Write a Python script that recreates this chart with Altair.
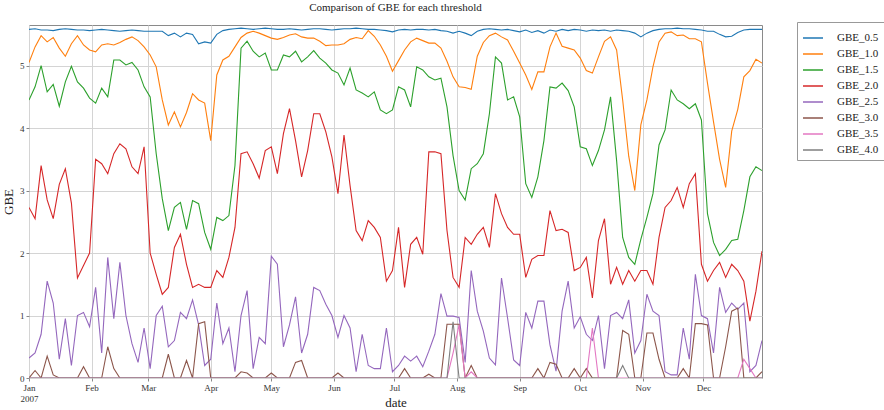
import altair as alt
import pandas as pd

# Series names and matplotlib "tab10" colours
SERIES = ["GBE_0.5", "GBE_1.0", "GBE_1.5", "GBE_2.0", "GBE_2.5", "GBE_3.0", "GBE_3.5", "GBE_4.0"]
COLORS = ["#1f77b4", "#ff7f0e", "#2ca02c", "#d62728", "#9467bd", "#8c564b", "#e377c2", "#7f7f7f"]

# Sampling dates: every third day of 2007
dates = pd.date_range("2007-01-01", periods=122, freq="3D")

gbe_05 = [
    5.58, 5.59, 5.57, 5.57, 5.56, 5.58, 5.59, 5.58, 5.57, 5.57,
    5.56, 5.57, 5.58, 5.57, 5.56, 5.55, 5.56, 5.57, 5.56, 5.55,
    5.55, 5.55, 5.55, 5.48, 5.52, 5.46, 5.52, 5.50, 5.35, 5.38,
    5.36, 5.50, 5.56, 5.58, 5.59, 5.60, 5.59, 5.58, 5.59, 5.60,
    5.59, 5.58, 5.58, 5.59, 5.58, 5.57, 5.58, 5.59, 5.59, 5.58,
    5.57, 5.58, 5.59, 5.59, 5.60, 5.59, 5.58, 5.58, 5.57, 5.56,
    5.54, 5.57, 5.58, 5.57, 5.58, 5.58, 5.57, 5.58, 5.56, 5.55,
    5.52, 5.55, 5.52, 5.48, 5.55, 5.58, 5.59, 5.58, 5.57, 5.58,
    5.56, 5.54, 5.57, 5.53, 5.56, 5.52, 5.57, 5.55, 5.58, 5.56,
    5.58, 5.57, 5.55, 5.57, 5.56, 5.57, 5.55, 5.57, 5.56, 5.55,
    5.52, 5.46, 5.52, 5.56, 5.58, 5.59, 5.59, 5.60, 5.59, 5.59,
    5.58, 5.57, 5.55, 5.55, 5.50, 5.46, 5.47, 5.53, 5.57, 5.58,
    5.58, 5.58,
]

gbe_10 = [
    5.05, 5.30, 5.48, 5.38, 5.45, 5.28, 5.15, 5.35, 5.48, 5.33,
    5.25, 5.22, 5.33, 5.35, 5.33, 5.37, 5.42, 5.46, 5.40, 5.30,
    5.17, 4.98, 4.45, 4.05, 4.26, 4.02, 4.25, 4.55, 4.45, 4.40,
    3.80, 4.85, 5.09, 5.15, 5.30, 5.45, 5.52, 5.55, 5.52, 5.48,
    5.44, 5.42, 5.45, 5.49, 5.51, 5.46, 5.44, 5.44, 5.39, 5.32,
    5.33, 5.33, 5.35, 5.42, 5.45, 5.43, 5.56, 5.47, 5.33, 5.15,
    4.91, 5.08, 5.25, 5.38, 5.44, 5.40, 5.36, 5.36, 5.28, 5.07,
    4.82, 4.66, 4.65, 4.62, 5.15, 5.37, 5.48, 5.52, 5.46, 5.41,
    5.23, 5.04, 4.85, 4.62, 4.90, 4.90, 5.30, 5.52, 5.31, 5.28,
    5.25, 5.12, 4.92, 4.88, 5.14, 5.39, 5.46, 5.25, 4.45, 3.55,
    3.00, 4.05, 4.45, 4.98, 5.38, 5.52, 5.54, 5.48, 5.49, 5.43,
    5.43, 5.38, 4.72, 4.10, 3.50, 3.05, 3.95, 4.30, 4.82, 4.92,
    5.10, 5.04,
]

gbe_15 = [
    4.45, 4.66, 5.00, 4.58, 4.70, 4.35, 4.74, 4.99, 4.74, 4.64,
    4.48, 4.40, 4.64, 4.50, 5.09, 5.09, 5.01, 5.05, 4.93, 4.66,
    4.50, 3.59, 2.87, 2.36, 2.73, 2.81, 2.38, 2.84, 2.79, 2.33,
    2.06, 2.57, 2.52, 2.60, 3.40, 5.28, 5.39, 5.23, 5.14, 5.20,
    4.93, 4.93, 5.17, 5.14, 5.23, 5.06, 5.14, 5.24, 5.12, 5.04,
    4.93, 4.88, 4.69, 4.96, 4.61, 4.56, 4.50, 4.58, 4.29, 4.23,
    4.29, 4.66, 4.61, 4.34, 4.98, 4.93, 4.82, 4.77, 4.80, 4.34,
    3.56, 3.00, 2.85, 3.35, 3.43, 3.59, 4.23, 5.14, 5.04, 4.45,
    4.50, 4.18, 3.11, 2.89, 3.22, 3.80, 4.66, 4.64, 4.72, 4.60,
    4.34, 3.70, 3.67, 3.40, 3.64, 3.97, 4.50, 3.48, 2.25, 1.93,
    1.82, 2.22, 2.57, 2.95, 3.73, 3.97, 4.61, 4.45, 4.39, 4.31,
    4.39, 4.13, 2.63, 2.17, 1.96, 2.06, 2.20, 2.22, 2.68, 3.22,
    3.38, 3.32,
]

gbe_20 = [
    2.73, 2.55, 3.40, 2.85, 2.55, 3.10, 3.35, 2.80, 1.60, 1.80,
    2.00, 3.50, 3.43, 3.27, 3.59, 3.75, 3.67, 3.38, 3.27, 3.70,
    2.00, 1.66, 1.34, 1.45, 2.09, 2.30, 1.82, 1.45, 1.50, 1.45,
    1.45, 1.72, 1.61, 1.93, 2.41, 3.59, 3.62, 3.43, 3.20, 3.64,
    3.70, 3.27, 3.91, 4.31, 3.80, 3.22, 3.64, 4.23, 4.23, 3.94,
    3.54, 2.95, 3.89, 3.08, 2.36, 2.20, 2.52, 2.41, 2.25, 1.55,
    1.72, 2.41, 1.45, 2.14, 2.25, 1.98, 3.62, 3.62, 3.59, 2.36,
    1.61, 1.45, 2.25, 2.14, 2.30, 2.41, 2.09, 2.95, 2.63, 2.41,
    2.30, 2.30, 1.61, 1.90, 1.96, 1.96, 2.68, 2.36, 2.38, 2.33,
    1.72, 1.77, 1.93, 1.28, 2.20, 2.55, 1.50, 1.77, 1.50, 1.72,
    1.55, 1.72, 1.72, 1.50, 2.25, 2.73, 2.84, 3.05, 2.73, 3.11,
    3.27, 1.82, 1.55, 1.72, 1.85, 1.61, 1.82, 1.72, 1.55, 0.91,
    1.39, 2.03,
]

gbe_25 = [
    0.32, 0.40, 0.70, 1.55, 1.20, 0.30, 0.95, 0.20, 1.00, 1.05,
    0.82, 1.45, 0.40, 1.93, 0.95, 1.85, 1.00, 0.55, 0.25, 0.80,
    0.15, 1.00, 1.15, 0.50, 0.60, 1.05, 0.95, 1.25, 0.85, 0.20,
    0.30, 1.20, 0.55, 0.80, 0.10, 1.00, 1.40, 0.15, 0.65, 0.55,
    1.95, 1.82, 0.50, 0.85, 1.30, 0.40, 0.70, 1.45, 1.40, 1.18,
    1.00, 0.65, 1.00, 0.80, 0.10, 0.70, 0.20, 0.15, 0.15, 0.80,
    0.10, 0.20, 0.35, 0.27, 0.35, 0.18, 0.43, 0.70, 1.35, 0.99,
    0.99, 0.97, 0.25, 1.72, 1.07, 0.75, 0.32, 0.21, 1.60, 0.96,
    0.29, 0.20, 1.05, 0.80, 1.23, 1.23, 0.53, 0.11, 1.07, 1.55,
    0.80, 0.98, 0.70, 0.60, 1.00, 0.15, 1.00, 1.05, 0.95, 1.25,
    0.40, 0.60, 1.34, 1.07, 1.00, 0.10, 0.05, 0.05, 0.80, 0.30,
    1.66, 1.00, 0.95, 0.40, 1.45, 1.05, 1.20, 1.10, 1.20, 0.10,
    0.20, 0.60,
]

gbe_30 = [
    0.00, 0.12, 0.00, 0.35, 0.05, 0.00, 0.00, 0.00, 0.00, 0.18,
    0.00, 0.00, 0.00, 0.50, 0.15, 0.00, 0.00, 0.00, 0.00, 0.00,
    0.00, 0.00, 0.00, 0.38, 0.00, 0.00, 0.28, 0.00, 0.87, 0.90,
    0.00, 0.00, 0.00, 0.00, 0.00, 0.10, 0.08, 0.00, 0.00, 0.00,
    0.08, 0.00, 0.00, 0.00, 0.25, 0.28, 0.00, 0.00, 0.00, 0.00,
    0.00, 0.08, 0.00, 0.00, 0.00, 0.00, 0.00, 0.00, 0.00, 0.00,
    0.00, 0.00, 0.15, 0.00, 0.00, 0.00, 0.06, 0.00, 0.00, 0.86,
    0.86, 0.86, 0.00, 0.20, 0.00, 0.00, 0.00, 0.00, 0.00, 0.00,
    0.00, 0.00, 0.00, 0.00, 0.15, 0.00, 0.25, 0.22, 0.00, 0.00,
    0.15, 0.00, 0.15, 0.00, 0.00, 0.00, 0.00, 0.00, 0.76, 0.70,
    0.00, 0.00, 0.72, 0.72, 0.30, 0.00, 0.00, 0.00, 0.15, 0.00,
    0.87, 0.87, 0.85, 0.00, 0.00, 0.50, 1.07, 1.12, 0.00, 0.00,
    0.00, 0.10,
]

gbe_35 = [
    0.00, 0.00, 0.00, 0.00, 0.00, 0.00, 0.00, 0.00, 0.00, 0.00,
    0.00, 0.00, 0.00, 0.00, 0.00, 0.00, 0.00, 0.00, 0.00, 0.00,
    0.00, 0.00, 0.00, 0.00, 0.00, 0.00, 0.00, 0.00, 0.00, 0.00,
    0.00, 0.00, 0.00, 0.00, 0.00, 0.00, 0.00, 0.00, 0.00, 0.00,
    0.00, 0.00, 0.00, 0.00, 0.00, 0.00, 0.00, 0.00, 0.00, 0.00,
    0.00, 0.00, 0.00, 0.00, 0.00, 0.00, 0.00, 0.00, 0.00, 0.00,
    0.00, 0.00, 0.00, 0.00, 0.00, 0.00, 0.00, 0.00, 0.00, 0.00,
    0.40, 0.85, 0.00, 0.10, 0.00, 0.00, 0.00, 0.00, 0.00, 0.00,
    0.00, 0.00, 0.00, 0.00, 0.00, 0.00, 0.00, 0.00, 0.00, 0.00,
    0.00, 0.00, 0.00, 0.80, 0.00, 0.00, 0.00, 0.00, 0.00, 0.00,
    0.00, 0.00, 0.00, 0.00, 0.00, 0.00, 0.00, 0.00, 0.00, 0.00,
    0.00, 0.00, 0.00, 0.00, 0.00, 0.00, 0.00, 0.00, 0.30, 0.15,
    0.00, 0.00,
]

gbe_40 = [
    0.00, 0.00, 0.00, 0.00, 0.00, 0.00, 0.00, 0.00, 0.00, 0.00,
    0.00, 0.00, 0.00, 0.00, 0.00, 0.00, 0.00, 0.00, 0.00, 0.00,
    0.00, 0.00, 0.00, 0.00, 0.00, 0.00, 0.00, 0.00, 0.00, 0.00,
    0.00, 0.00, 0.00, 0.00, 0.00, 0.00, 0.00, 0.00, 0.00, 0.00,
    0.00, 0.00, 0.00, 0.00, 0.00, 0.00, 0.00, 0.00, 0.00, 0.00,
    0.00, 0.00, 0.00, 0.00, 0.00, 0.00, 0.00, 0.00, 0.00, 0.00,
    0.00, 0.00, 0.00, 0.00, 0.00, 0.00, 0.00, 0.00, 0.00, 0.00,
    0.90, 0.00, 0.00, 0.00, 0.00, 0.00, 0.00, 0.00, 0.00, 0.00,
    0.00, 0.00, 0.00, 0.00, 0.00, 0.00, 0.00, 0.00, 0.00, 0.00,
    0.00, 0.00, 0.00, 0.00, 0.00, 0.00, 0.00, 0.00, 0.20, 0.00,
    0.00, 0.00, 0.00, 0.00, 0.00, 0.00, 0.00, 0.00, 0.00, 0.00,
    0.00, 0.00, 0.00, 0.00, 0.00, 0.00, 0.00, 0.00, 0.00, 0.00,
    0.00, 0.00,
]

values = [gbe_05, gbe_10, gbe_15, gbe_20, gbe_25, gbe_30, gbe_35, gbe_40]
df = pd.concat(
    [pd.DataFrame({"date": dates, "series": name, "GBE": vals})
     for name, vals in zip(SERIES, values)],
    ignore_index=True,
)

FONT = "Liberation Serif"
month_ticks = [alt.DateTime(year=2007, month=m, date=1) for m in range(1, 13)]

chart = (
    alt.Chart(df)
    .mark_line(strokeWidth=1.1, clip=True)
    .encode(
        x=alt.X(
            "date:T",
            scale=alt.Scale(domain=[alt.DateTime(year=2007, month=1, date=1),
                                    alt.DateTime(year=2007, month=12, date=30)]),
            axis=alt.Axis(
                values=month_ticks,
                format="%b",
                labelExpr="month(datum.value) == 0 ? ['Jan', '2007'] : datum.label",
                labelFlush=False,
                title="date",
                titleY=18,
                titleBaseline="top",
            ),
        ),
        y=alt.Y(
            "GBE:Q",
            scale=alt.Scale(domain=[0, 5.65], nice=False),
            axis=alt.Axis(values=[0, 1, 2, 3, 4, 5], format="d", title="GBE",
                          titlePadding=4, labelFlush=False),
        ),
        color=alt.Color(
            "series:N",
            scale=alt.Scale(domain=SERIES, range=COLORS),
            sort=SERIES,
            title=None,
            legend=alt.Legend(
                orient="none",
                legendX=768,
                legendY=-3,
                symbolType="stroke",
                symbolSize=400,
                symbolStrokeWidth=1.5,
                labelFontSize=11,
                labelFont=FONT,
                labelColor="#222",
                labelOffset=13,
                rowPadding=0,
                padding=5,
                strokeColor="#999",
                fillColor="white",
            ),
        ),
    )
    .properties(
        width=733,
        height=353,
        autosize="none",
        padding={"left": 29, "top": 25, "right": 122, "bottom": 32},
        title=alt.TitleParams(
            "Comparison of GBE for each threshold",
            font=FONT,
            fontSize=11,
            fontWeight="normal",
            color="#222",
            anchor="middle",
            offset=9,
        ),
    )
    .configure_view(stroke="#8a8a8a", strokeWidth=1)
    .configure_axis(
        domain=False,
        grid=True,
        gridColor="#d4d4d4",
        gridWidth=1,
        tickColor="#888",
        tickSize=3,
        labelPadding=2,
        labelFont=FONT,
        labelFontSize=9,
        labelColor="#333",
        titleFont=FONT,
        titleFontSize=13,
        titleFontWeight="normal",
        titleColor="#222",
    )
)

chart.save("out.html", embed_options={"renderer": "svg", "actions": False})
